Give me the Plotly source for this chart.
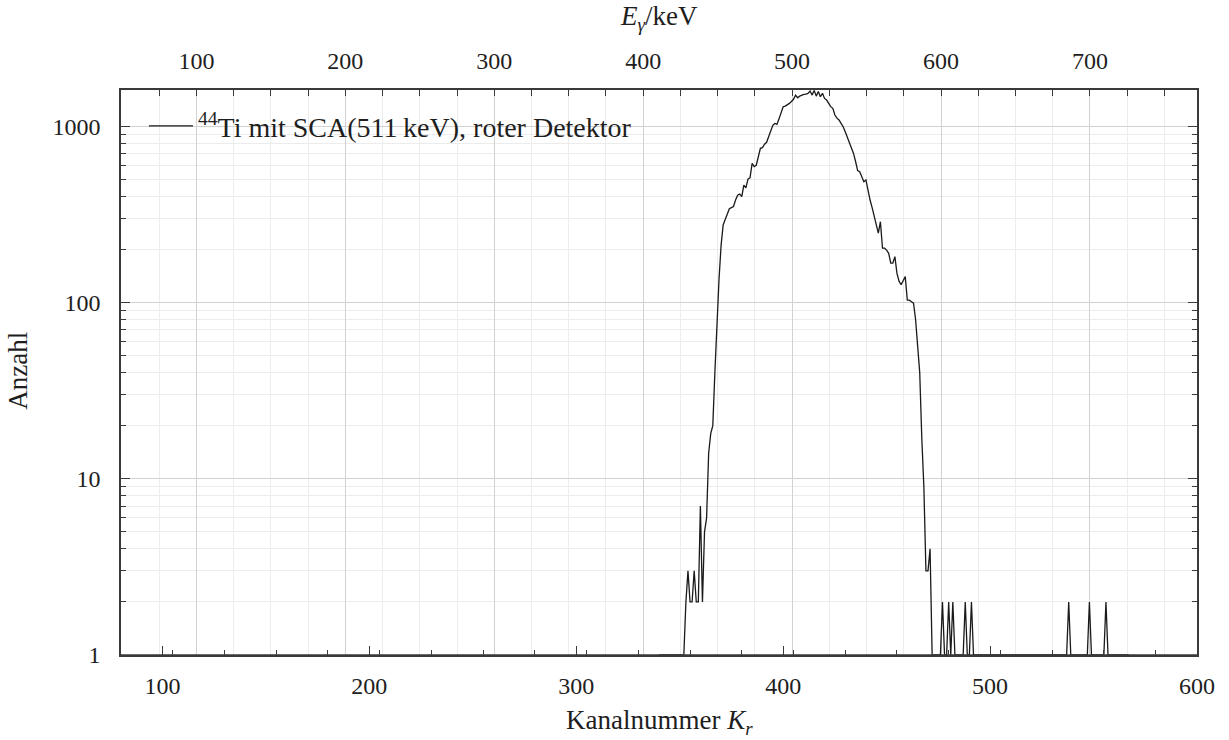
import plotly.graph_objects as go

# ---- data ----
START_CHANNEL = 340
counts = [
    1, 1, 1, 1, 1, 1, 1, 1, 1, 1, 1, 1,                  # 340-351
    1, 2, 3, 2, 2, 3, 2, 2, 7, 2, 5, 6,                  # 352-363
    14, 18, 20, 40, 80, 135, 210, 275, 295, 315, 340, 345,  # 364-375
    350, 381, 406, 412, 398, 463, 447, 500, 510, 615, 589, 600,  # 376-387
    680, 748, 755, 790, 810, 871, 950, 1010, 1036, 1023, 1100, 1207,  # 388-399
    1289, 1300, 1320, 1346, 1380, 1420, 1500, 1449, 1480, 1500, 1514, 1520,  # 400-411
    1535, 1581, 1500, 1595, 1480, 1570, 1468, 1535, 1436, 1406, 1350, 1290,  # 412-423
    1262, 1156, 1110, 1083, 1036, 992, 930, 870, 798, 764, 700, 630,  # 424-435
    560, 551, 520, 484, 495, 425, 381, 345, 310, 280, 247, 287,  # 436-447
    203, 203, 198, 190, 167, 167, 182, 146, 132, 126, 134, 140,  # 448-459
    103, 103, 101, 99, 80, 58, 40, 17, 9, 3, 3, 4,        # 460-471
    1, 1, 1, 1, 1, 2, 1, 1, 2, 1, 2, 1,                  # 472-483
    1, 1, 1, 1, 2, 1, 1, 2, 1, 1, 1, 1,                  # 484-495
    1, 1, 1, 1, 1, 1, 1, 1, 1, 1, 1, 1,                  # 496-507
    1, 1, 1, 1, 1, 1, 1, 1, 1, 1, 1, 1,                  # 508-519
    1, 1, 1, 1, 1, 1, 1, 1, 1, 1, 1, 1,                  # 520-531
    1, 1, 1, 1, 1, 1, 2, 1, 1, 1, 1, 1,                  # 532-543
    1, 1, 1, 1, 2, 1, 1, 1, 1, 1, 1, 1,                  # 544-555
    2, 1, 1, 1, 1, 1, 1, 1, 1, 1, 1, 1,                  # 556-567
]
channels = list(range(START_CHANNEL, START_CHANNEL + len(counts)))

# energy calibration E = slope*K + offset (keV)
CAL_SLOPE = 1.3895
CAL_OFFSET = -61.8
energies = [CAL_SLOPE * k + CAL_OFFSET for k in channels]

X_RANGE = [80, 600]
E_RANGE = [CAL_SLOPE * X_RANGE[0] + CAL_OFFSET, CAL_SLOPE * X_RANGE[1] + CAL_OFFSET]
Y_LOG_RANGE = [0, 3.205]

LEGEND_NAME = "<sup>44</sup>Ti mit SCA(511\u2009keV), roter Detektor"
X_TITLE = "Kanalnummer <i>K</i><sub><i>r</i></sub>"
X2_TITLE = "<i>E</i><sub><i>γ</i></sub>/keV"
Y_TITLE = "Anzahl"

FONT = "Liberation Serif"
TXT = "#1e1e1e"
AX = "#3a3a3a"
GRID_MAJOR = "#d2d2d2"
GRID_MINOR = "#ececec"
TICK_FONT = dict(family=FONT, size=24, color=TXT)
TITLE_FONT = dict(family=FONT, size=27, color=TXT)

fig = go.Figure()
fig.add_trace(go.Scatter(
    x=channels, y=counts, mode="lines", name=LEGEND_NAME,
    line=dict(color="#1a1a1a", width=1.3),
    xaxis="x", yaxis="y",
))
# same spectrum on the energy (top) axis, invisible, to carry the top/right axes
fig.add_trace(go.Scatter(
    x=energies, y=counts, mode="lines", showlegend=False, hoverinfo="skip",
    line=dict(color="rgba(0,0,0,0)", width=0),
    xaxis="x2", yaxis="y2",
))

fig.update_layout(
    width=1229, height=740,
    margin=dict(l=121, r=32, t=90, b=85),
    paper_bgcolor="white", plot_bgcolor="white",
    font=dict(family=FONT, size=24, color=TXT),
    showlegend=True,
    legend=dict(x=0.0213, y=0.936, xanchor="left", yanchor="middle",
                itemwidth=44,
                bgcolor="rgba(0,0,0,0)", borderwidth=0,
                font=dict(family=FONT, size=28, color=TXT)),
    xaxis=dict(
        range=X_RANGE, tick0=0, dtick=100, automargin=False,
        ticks="inside", ticklen=9, tickwidth=1.3, tickcolor=AX,
        tickfont=TICK_FONT, ticklabelstandoff=8,
        showline=True, linecolor=AX, linewidth=1.6,
        showgrid=False, zeroline=False,
        minor=dict(tick0=105, dtick=25, ticks="inside", ticklen=5,
                   tickwidth=1.3, tickcolor=AX, showgrid=False),
    ),
    xaxis2=dict(
        range=E_RANGE, overlaying="x", side="top", anchor="y", automargin=False,
        tick0=0, dtick=100,
        ticks="inside", ticklen=6, tickwidth=1.3, tickcolor=AX,
        tickfont=TICK_FONT, ticklabelstandoff=10,
        showline=True, linecolor=AX, linewidth=1.6,
        showgrid=True, gridcolor=GRID_MAJOR, gridwidth=1.2, zeroline=False,
        minor=dict(tick0=0, dtick=25, ticks="inside", ticklen=6,
                   tickwidth=1.3, tickcolor=AX, showgrid=True,
                   gridcolor=GRID_MINOR, gridwidth=1.2),
    ),
    yaxis=dict(
        type="log", range=Y_LOG_RANGE, dtick=1, automargin=False,
        ticks="inside", ticklen=9, tickwidth=1.3, tickcolor=AX,
        tickfont=TICK_FONT, ticklabelstandoff=14,
        showline=True, linecolor=AX, linewidth=1.6,
        showgrid=True, gridcolor=GRID_MAJOR, gridwidth=1.2, zeroline=False,
        minor=dict(dtick="D1", ticks="inside", ticklen=5, tickwidth=1.3,
                   tickcolor=AX, showgrid=True, gridcolor=GRID_MINOR, gridwidth=1.2),
    ),
    yaxis2=dict(
        type="log", range=Y_LOG_RANGE, dtick=1, overlaying="y", side="right",
        anchor="x", showticklabels=False, automargin=False,
        ticks="inside", ticklen=9, tickwidth=1.3, tickcolor=AX,
        showline=True, linecolor=AX, linewidth=1.6,
        showgrid=False, zeroline=False,
        minor=dict(dtick="D1", ticks="inside", ticklen=5, tickwidth=1.3,
                   tickcolor=AX, showgrid=False),
    ),
    shapes=[
        # bottom spine drawn over the plot edge (hides the count-1 baseline, as in the original)
        dict(type="line", xref="paper", yref="paper", x0=0, x1=1, y0=0, y1=0,
             line=dict(color=AX, width=1.4), layer="above"),
    ],
    annotations=[
        dict(text=X_TITLE, xref="paper", yref="paper", x=0.5, y=-0.118,
             xanchor="center", yanchor="middle", showarrow=False, font=TITLE_FONT),
        dict(text=X2_TITLE, xref="paper", yref="paper", x=0.5, y=1.128,
             xanchor="center", yanchor="middle", showarrow=False, font=TITLE_FONT),
        dict(text=Y_TITLE, xref="paper", yref="paper", x=-0.0957, y=0.503,
             xanchor="center", yanchor="middle", textangle=-90,
             showarrow=False, font=TITLE_FONT),
    ],
)

# remove the browser's default 8px body margin so the figure fills the window exactly
fig.write_html(
    "out.html",
    config={"displayModeBar": False},
    post_script="document.body.style.margin='0';document.body.style.overflow='hidden';",
)
